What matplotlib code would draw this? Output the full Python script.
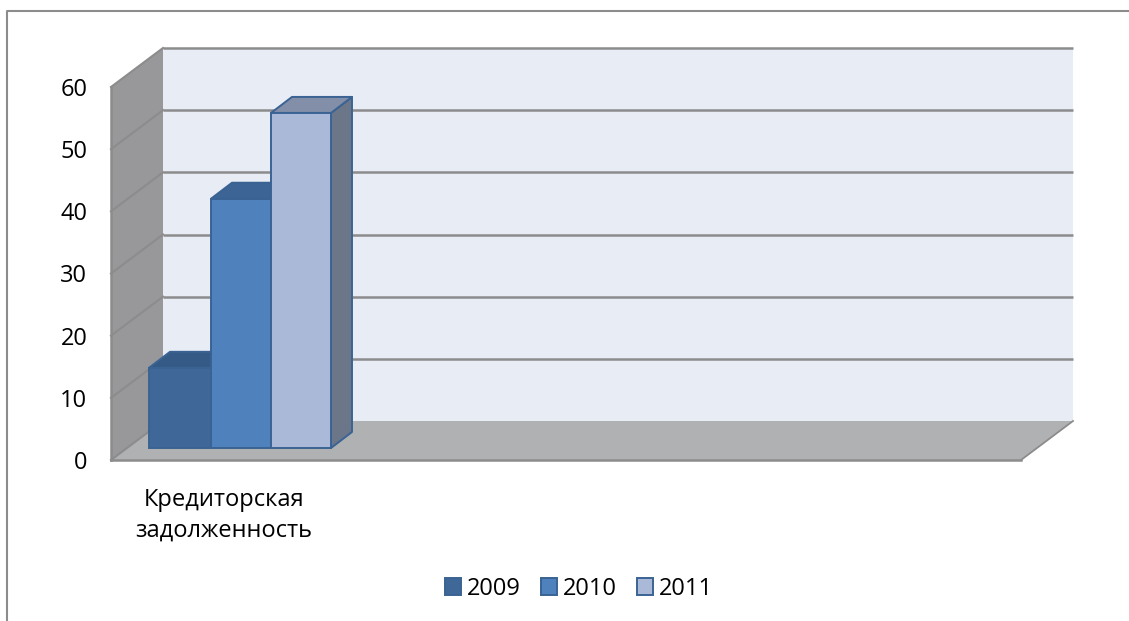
import matplotlib
matplotlib.use("Agg")
import matplotlib.pyplot as plt
from matplotlib.patches import Polygon, Rectangle
from matplotlib.lines import Line2D

categories = ["Кредиторская\nзадолженность"]
years = ["2009", "2010", "2011"]
values_2009 = [12.9]
values_2010 = [40.1]
values_2011 = [53.9]
y_ticks = [0, 10, 20, 30, 40, 50, 60]

front_cols = ["#3F6797", "#4F81BD", "#AAB9D7"]
top_cols = ["#345A85", "#3C6494", "#838FA8"]
side_cols = ["#345A85", "#3C6494", "#6B7689"]
edge_col = "#3A6394"
grid_col = "#8C8C8C"

plt.rcParams["font.family"] = ["Open Sans", "DejaVu Sans"]
W, H = 1129, 621
fig = plt.figure(figsize=(W / 100, H / 100), dpi=100)
# axes spans the front plane of the 3-D box: x in pixels from the left wall
L, R, B, T = 111, 1021, 460, 87
ax = fig.add_axes([L / W, 1 - B / H, (R - L) / W, (B - T) / H])
ax.set_xlim(0, R - L)
ax.set_ylim(0, 60)
for s in ax.spines.values():
    s.set_visible(False)
ax.patch.set_alpha(0)

u = (B - T) / 60          # pixels per value unit
DX, DY = 52, 39 / u       # box depth
dx, dy = 21, 16 / u       # bar depth
base = 12 / u             # bars stand in front of the axis plane

def poly(pts, **kw):
    ax.add_patch(Polygon(pts, closed=True, clip_on=False, **kw))

# walls and floor
poly([(0, 0), (DX, DY), (DX, 60 + DY), (0, 60)], fc="#98989A", ec="none", zorder=1)
poly([(DX, DY), (R - L + DX, DY), (R - L + DX, 60 + DY), (DX, 60 + DY)],
     fc="#E8ECF5", ec="none", zorder=1)
poly([(0, 0), (DX, DY), (R - L + DX, DY), (R - L, 0)], fc="#B0B1B3", ec="none", zorder=1)

# gridlines
for t in y_ticks:
    if t > 0:
        ax.plot([DX, R - L + DX], [t + DY, t + DY], color=grid_col, lw=1.8, clip_on=False, zorder=2,
                solid_capstyle="butt")
    ax.plot([0, DX], [t, t + DY], color=grid_col, lw=1.5, clip_on=False, zorder=2)
ax.plot([0, R - L], [0, 0], color=grid_col, lw=1.8, clip_on=False, zorder=2)
ax.plot([0, 0], [0, 60], color=grid_col, lw=1.8, clip_on=False, zorder=2)
ax.plot([R - L, R - L + DX], [0, DY], color=grid_col, lw=1.3, clip_on=False, zorder=2)

# bars
series = [values_2009, values_2010, values_2011]
lefts = [38, 100, 160]
widths = [62, 60, 60]
for i, vals in enumerate(series):
    v = vals[0]
    x0, w = lefts[i], widths[i]
    z = 3 + i
    poly([(x0 + w, base), (x0 + w + dx, base + dy), (x0 + w + dx, base + v + dy), (x0 + w, base + v)],
         fc=side_cols[i], ec=edge_col, lw=1.4, zorder=z, joinstyle="round")
    poly([(x0, base + v), (x0 + dx, base + v + dy), (x0 + w + dx, base + v + dy), (x0 + w, base + v)],
         fc=top_cols[i], ec=edge_col, lw=1.4, zorder=z, joinstyle="round")
    ax.bar(x0, v, width=w, bottom=base, align="edge", color=front_cols[i],
           edgecolor=edge_col, linewidth=1.4, clip_on=False, zorder=z + 0.5)

# axes labels
ax.set_yticks(y_ticks)
ax.tick_params(axis="y", length=0, pad=17, labelsize=17, labelcolor="black")
ax.set_xticks([113])
ax.set_xticklabels(categories, fontsize=17, linespacing=1.4)
ax.tick_params(axis="x", length=0, pad=20)

# legend
handles = [Rectangle((0, 0), 1, 1, fc=front_cols[i], ec=edge_col, lw=1.4) for i in range(3)]
fig.legend(handles, years, loc="center", bbox_to_anchor=(579 / W, 1 - 589 / H), ncol=3,
           frameon=False, fontsize=17, handlelength=0.68, handleheight=0.7,
           handletextpad=0.25, columnspacing=0.87, borderpad=0)

# outer frame
fig.add_artist(Line2D([7 / W, 7 / W, 1], [0, 1 - 11 / H, 1 - 11 / H], color="#8C8C8C", lw=1.5))

fig.savefig("out.png", dpi=100)
